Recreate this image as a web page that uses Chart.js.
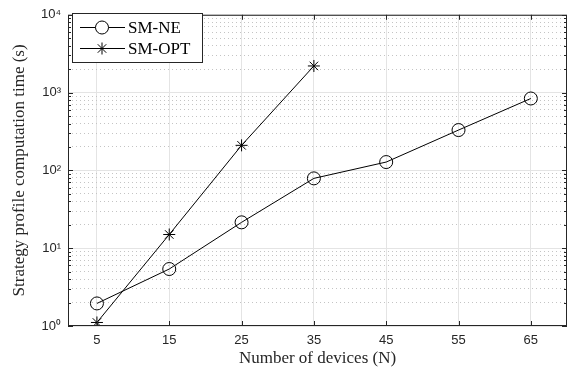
<!DOCTYPE html>
<html>
<head>
<meta charset="utf-8">
<script src="https://cdn.jsdelivr.net/npm/chart.js@4"></script>
<style>
  html, body { margin: 0; padding: 0; background: #fff; }
  #wrap { width: 569px; height: 369px; }
</style>
</head>
<body>
<div id="wrap"><canvas id="chart" width="569" height="369"></canvas></div>
<script>
const devices = [5, 15, 25, 35, 45, 55, 65];
const smNeTimes = [1.95, 5.4, 21.5, 79, 128, 330, 840];
const smOptTimes = [1.11, 15, 210, 2200];
const seriesNames = ['SM-NE', 'SM-OPT'];
const supers = ['\u2070', '\u00b9', '\u00b2', '\u00b3', '\u2074'];

const sansFont = "'Liberation Sans', Arial, sans-serif";
const serifFont = "'Liberation Serif', 'DejaVu Serif', serif";
const axisGray = '#262626';

const toPoints = (ys) => ys.map((y, i) => ({ x: devices[i], y: y }));

const minorValues = [];
for (let d = 0; d < 4; d++) {
  for (let m = 1; m < 10; m++) minorValues.push(m * Math.pow(10, d));
}
minorValues.push(10000);

const isMajor = (v) => Math.abs(Math.log10(v) - Math.round(Math.log10(v))) < 1e-9;

// box, inward ticks and legend drawn on top, MATLAB style
const framePlugin = {
  id: 'frame',
  afterDraw(chart) {
    const { ctx, chartArea: a, scales } = chart;
    const xs = scales.x, ys = scales.y;
    ctx.save();
    ctx.strokeStyle = axisGray;
    ctx.lineWidth = 1;
    ctx.strokeRect(a.left + 0.5, a.top + 0.5, a.right - a.left - 1, a.bottom - a.top - 1);

    ctx.beginPath();
    devices.forEach(v => {
      const px = Math.round(xs.getPixelForValue(v)) + 0.5;
      ctx.moveTo(px, a.bottom); ctx.lineTo(px, a.bottom - 5);
      ctx.moveTo(px, a.top); ctx.lineTo(px, a.top + 5);
    });
    minorValues.forEach(v => {
      const py = Math.round(ys.getPixelForValue(v)) + 0.5;
      const len = isMajor(v) ? 5 : 3;
      ctx.moveTo(a.left, py); ctx.lineTo(a.left + len, py);
      ctx.moveTo(a.right, py); ctx.lineTo(a.right - len, py);
    });
    ctx.stroke();

    // legend
    const lx = 72, ly = 13, lw = 130, lh = 49;
    ctx.fillStyle = '#fff';
    ctx.fillRect(lx, ly, lw, lh);
    ctx.strokeStyle = axisGray;
    ctx.strokeRect(lx + 0.5, ly + 0.5, lw, lh);
    const rows = [27, 48];
    chart.data.datasets.forEach((ds, i) => {
      const y = ly + rows[i] - 13 + 0.5;
      ctx.strokeStyle = ds.borderColor;
      ctx.lineWidth = 1;
      ctx.beginPath();
      ctx.moveTo(80, y); ctx.lineTo(125, y);
      ctx.stroke();
      Chart.helpers.drawPoint(ctx, {
        pointStyle: ds.pointStyle,
        radius: ds.pointRadius,
        borderWidth: 1
      }, 102, y);
      ctx.fillStyle = '#000';
      ctx.font = '17px ' + serifFont;
      ctx.textBaseline = 'middle';
      ctx.fillText(ds.label, 128, y + 1);
    });
    ctx.restore();
  }
};

new Chart(document.getElementById('chart'), {
  type: 'line',
  data: {
    datasets: [
      {
        label: seriesNames[0],
        data: toPoints(smNeTimes),
        borderColor: '#000',
        backgroundColor: 'rgba(0,0,0,0)',
        borderWidth: 1,
        pointStyle: 'circle',
        pointRadius: 6.5,
        pointBorderWidth: 1,
        pointBackgroundColor: 'rgba(0,0,0,0)',
        pointBorderColor: '#000'
      },
      {
        label: seriesNames[1],
        data: toPoints(smOptTimes),
        borderColor: '#000',
        backgroundColor: 'rgba(0,0,0,0)',
        borderWidth: 1,
        pointStyle: 'star',
        pointRadius: 6,
        pointBorderWidth: 1,
        pointBackgroundColor: 'rgba(0,0,0,0)',
        pointBorderColor: '#000'
      }
    ]
  },
  options: {
    responsive: false,
    animation: false,
    layout: { autoPadding: false, padding: { left: 0, right: 2, top: 11, bottom: 0 } },
    plugins: {
      legend: { display: false },
      tooltip: { enabled: false }
    },
    scales: {
      x: {
        type: 'linear',
        min: 1,
        max: 70,
        afterBuildTicks: (scale) => { scale.ticks = devices.map(v => ({ value: v })); },
        afterFit: (scale) => { scale.height = 43; },
        ticks: {
          color: axisGray,
          font: { family: sansFont, size: 13 },
          padding: 7,
          maxRotation: 0,
          callback: (v) => String(v)
        },
        grid: { color: '#e4e4e4', lineWidth: 1, drawTicks: false },
        border: { display: false },
        title: {
          display: true,
          text: 'Number of devices (N)',
          color: axisGray,
          font: { family: serifFont, size: 17 },
          padding: { top: 0, bottom: 0 }
        }
      },
      y: {
        type: 'logarithmic',
        min: 1,
        max: 10000,
        afterBuildTicks: (scale) => { scale.ticks = minorValues.map(v => ({ value: v })); },
        afterFit: (scale) => { scale.width = 68; },
        ticks: {
          color: axisGray,
          font: { family: sansFont, size: 13 },
          padding: 7,
          autoSkip: false,
          callback: (v) => isMajor(v) ? '10' + supers[Math.round(Math.log10(v))] : ''
        },
        grid: {
          color: (c) => isMajor(c.tick.value) ? '#e4e4e4' : '#c4c4c4',
          lineWidth: 1,
          drawTicks: false
        },
        border: {
          display: false,
          dash: (c) => (c.tick && !isMajor(c.tick.value)) ? [1, 3] : []
        },
        title: {
          display: true,
          text: 'Strategy profile computation time (s)',
          color: axisGray,
          font: { family: serifFont, size: 17 },
          padding: { top: 9, bottom: 0 }
        }
      }
    }
  },
  plugins: [framePlugin]
});
</script>
</body>
</html>
